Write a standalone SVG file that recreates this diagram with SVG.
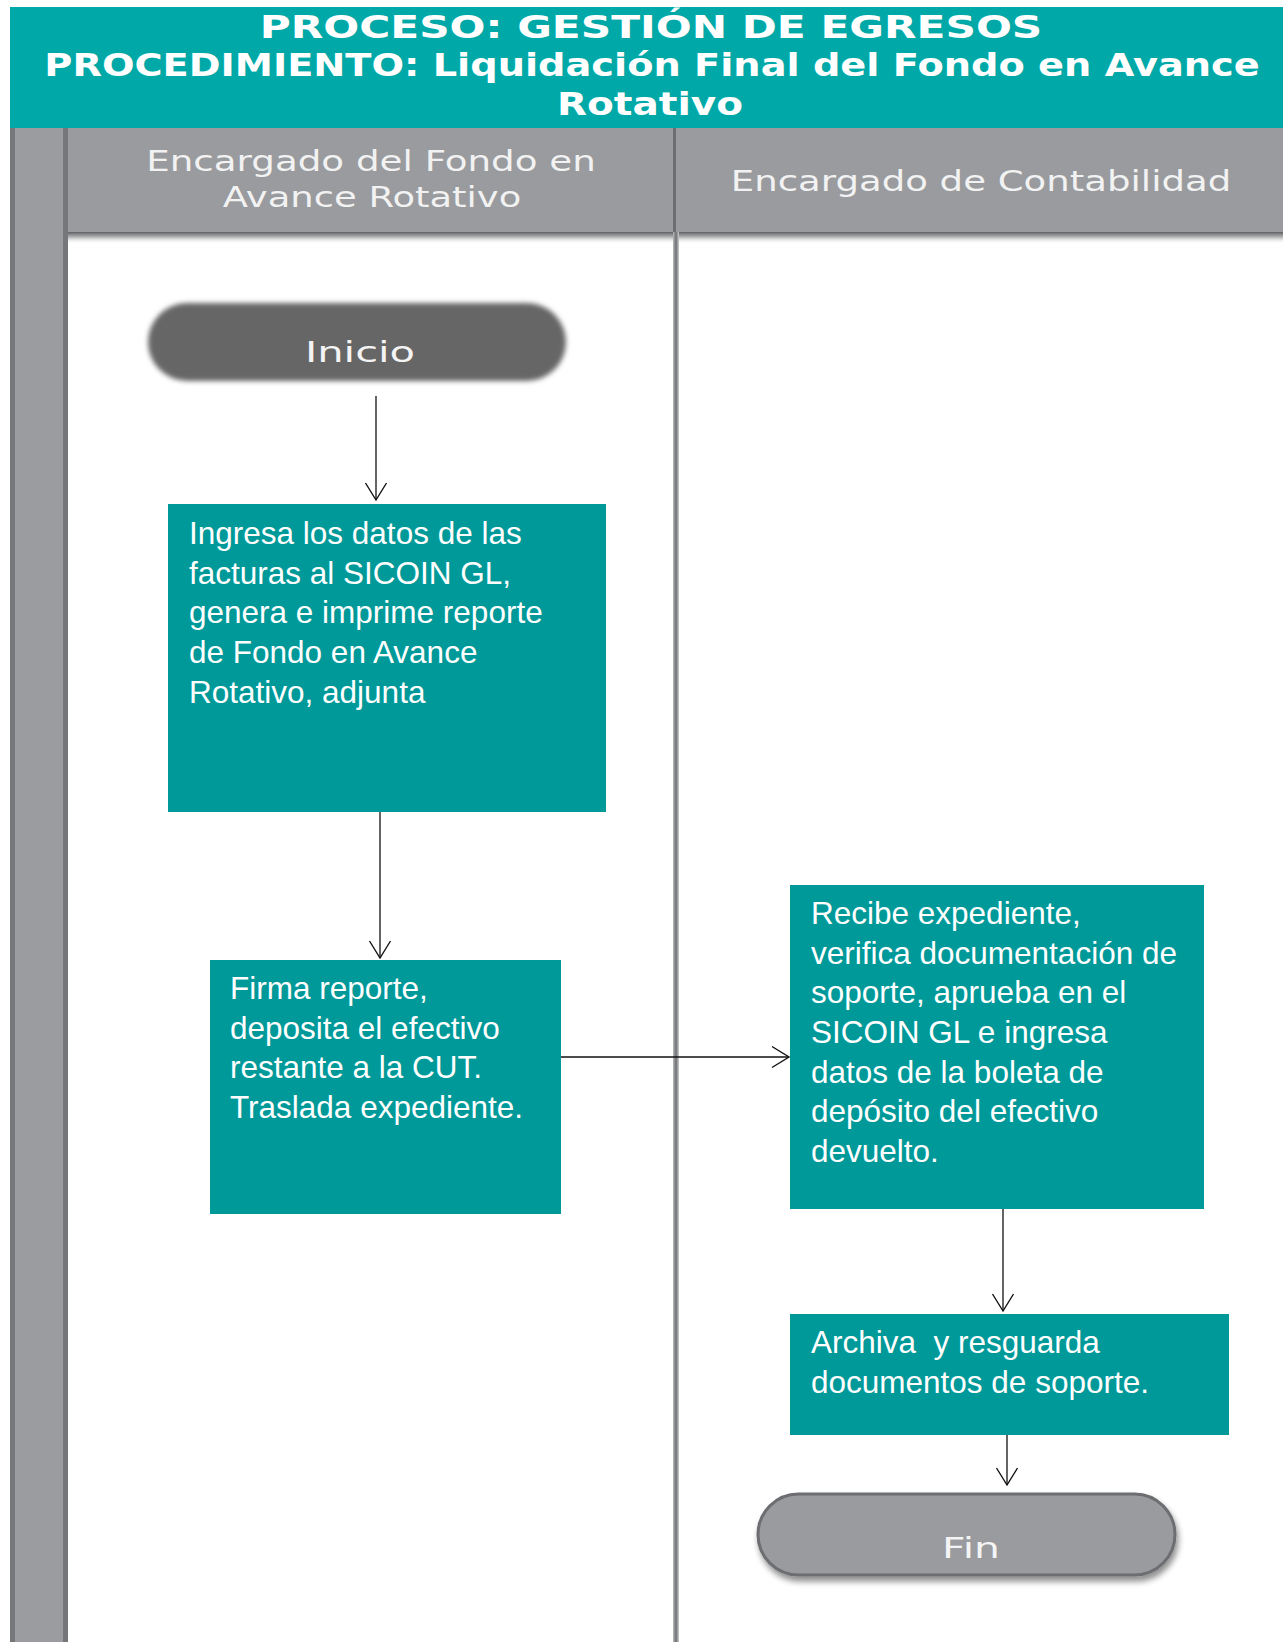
<svg xmlns="http://www.w3.org/2000/svg" width="1283" height="1642" viewBox="0 0 1283 1642">
<defs>
<style>
.title{font-family:"DejaVu Sans",Verdana,sans-serif;font-weight:bold;font-size:32px;fill:#ffffff;text-anchor:middle;}
.lane{font-family:"DejaVu Sans",Verdana,sans-serif;font-size:29px;fill:#f2f2f2;text-anchor:middle;}
.box{fill:#009999;}
.bt{font-family:"Liberation Sans",Arial,sans-serif;font-size:31.5px;fill:#ffffff;white-space:pre;}
.term{font-family:"DejaVu Sans",Verdana,sans-serif;font-size:28px;fill:#f4f4f4;text-anchor:middle;}
.conn{stroke:#111;stroke-width:1.3;fill:none;marker-end:url(#arr);}
</style>
<marker id="arr" viewBox="-19 -12 21 24" markerWidth="21" markerHeight="24" refX="0" refY="0" orient="auto" markerUnits="userSpaceOnUse">
<path d="M-17,-10.5 L0,0 L-17,10.5" fill="none" stroke="#111" stroke-width="1.4"/>
</marker>
<linearGradient id="hshadow" x1="0" y1="0" x2="0" y2="1">
<stop offset="0" stop-color="#5d5e61"/>
<stop offset="0.4" stop-color="#8a8b8e" stop-opacity="0.7"/>
<stop offset="1" stop-color="#ffffff" stop-opacity="0"/>
</linearGradient>
<linearGradient id="divg" x1="0" y1="0" x2="1" y2="0">
<stop offset="0" stop-color="#bbbbbb"/>
<stop offset="0.5" stop-color="#6d6e71"/>
<stop offset="1" stop-color="#cccccc"/>
</linearGradient>
<filter id="blur" x="-10%" y="-20%" width="120%" height="140%">
<feGaussianBlur stdDeviation="2.5"/>
</filter>
<filter id="shadow" x="-10%" y="-20%" width="125%" height="150%">
<feGaussianBlur in="SourceAlpha" stdDeviation="3"/>
<feOffset dx="2" dy="5" result="b"/>
<feComponentTransfer><feFuncA type="linear" slope="0.45"/></feComponentTransfer>
<feMerge><feMergeNode/><feMergeNode in="SourceGraphic"/></feMerge>
</filter>
</defs>
<rect width="1283" height="1642" fill="#ffffff"/>

<g id="pool">
<rect x="10" y="7" width="1273" height="121" fill="#00a9a8"/>
<text class="title" transform="translate(651,38) scale(1.25,1)" x="0" y="0" textLength="626" lengthAdjust="spacingAndGlyphs">PROCESO: GESTIÓN DE EGRESOS</text>
<text class="title" transform="translate(652,76) scale(1.18,1)" x="0" y="0" textLength="1030" lengthAdjust="spacingAndGlyphs">PROCEDIMIENTO: Liquidación Final del Fondo en Avance</text>
<text class="title" transform="translate(650,115) scale(1.2,1)" x="0" y="0" textLength="155" lengthAdjust="spacingAndGlyphs">Rotativo</text>
<rect x="10" y="128" width="58" height="1514" fill="#9a9c9f"/>
<rect x="10" y="128" width="5" height="1514" fill="#76777a"/>
<rect x="63" y="128" width="5" height="1514" fill="#76777a"/>
<rect x="68" y="232" width="1215" height="12" fill="url(#hshadow)"/>
<rect x="673" y="232" width="6" height="1410" fill="url(#divg)"/>
</g>

<g id="lane1">
<rect x="68" y="128" width="606" height="104" fill="#999b9e"/>
<text class="lane" transform="translate(371,171) scale(1.27,1)" x="0" y="0" textLength="354" lengthAdjust="spacingAndGlyphs">Encargado del Fondo en</text>
<text class="lane" transform="translate(372,207) scale(1.27,1)" x="0" y="0" textLength="235" lengthAdjust="spacingAndGlyphs">Avance Rotativo</text>
</g>
<g id="lane2">
<rect x="676" y="128" width="607" height="104" fill="#999b9e"/>
<text class="lane" transform="translate(981,191) scale(1.27,1)" x="0" y="0" textLength="394" lengthAdjust="spacingAndGlyphs">Encargado de Contabilidad</text>
<rect x="673" y="128" width="3" height="104" fill="#6d6e71"/>
</g>

<g id="connectors">
<line class="conn" x1="376" y1="396" x2="376" y2="500"/>
<line class="conn" x1="380" y1="812" x2="380" y2="958"/>
<line class="conn" x1="561" y1="1057" x2="789" y2="1057"/>
<line class="conn" x1="1003" y1="1209" x2="1003" y2="1311"/>
<line class="conn" x1="1007" y1="1434" x2="1007" y2="1485"/>
</g>

<g id="inicio">
<rect x="148" y="303" width="418" height="78" rx="39" fill="#666666" filter="url(#blur)"/>
<text class="term" transform="translate(360,362) scale(1.45,1)" x="0" y="0" textLength="76" lengthAdjust="spacingAndGlyphs">Inicio</text>
</g>

<g id="n1">
<rect class="box" x="168" y="504" width="438" height="308"/>
<text class="bt" x="189" y="544">Ingresa los datos de las</text>
<text class="bt" x="189" y="584">facturas al SICOIN GL,</text>
<text class="bt" x="189" y="623">genera e imprime reporte</text>
<text class="bt" x="189" y="663">de Fondo en Avance</text>
<text class="bt" x="189" y="703">Rotativo, adjunta</text>
</g>

<g id="n2">
<rect class="box" x="210" y="960" width="351" height="254"/>
<text class="bt" x="230" y="999">Firma reporte,</text>
<text class="bt" x="230" y="1039">deposita el efectivo</text>
<text class="bt" x="230" y="1078">restante a la CUT.</text>
<text class="bt" x="230" y="1118">Traslada expediente.</text>
</g>

<g id="n3">
<rect class="box" x="790" y="885" width="414" height="324"/>
<text class="bt" x="811" y="924">Recibe expediente,</text>
<text class="bt" x="811" y="964">verifica documentación de</text>
<text class="bt" x="811" y="1003">soporte, aprueba en el</text>
<text class="bt" x="811" y="1043">SICOIN GL e ingresa</text>
<text class="bt" x="811" y="1083">datos de la boleta de</text>
<text class="bt" x="811" y="1122">depósito del efectivo</text>
<text class="bt" x="811" y="1162">devuelto.</text>
</g>

<g id="n4">
<rect class="box" x="790" y="1314" width="439" height="121"/>
<text class="bt" x="811" y="1353" xml:space="preserve">Archiva  y resguarda</text>
<text class="bt" x="811" y="1393">documentos de soporte.</text>
</g>

<g id="fin">
<rect x="758" y="1494" width="417" height="81" rx="40.5" fill="#999b9e" stroke="#6d6e71" stroke-width="3" filter="url(#shadow)"/>
<text class="term" transform="translate(971,1558) scale(1.18,1)" x="0" y="0" font-size="33" textLength="49" lengthAdjust="spacingAndGlyphs">Fin</text>
</g>
</svg>
